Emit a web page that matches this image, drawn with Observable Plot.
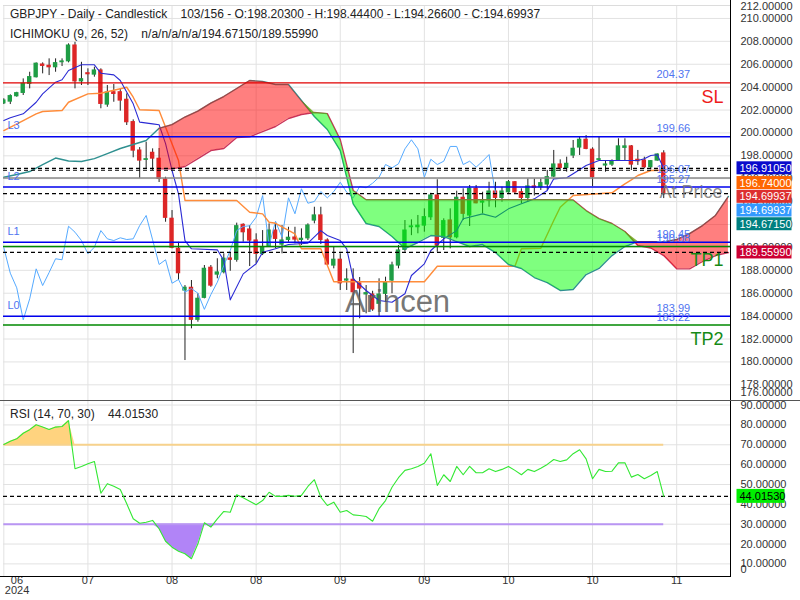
<!DOCTYPE html>
<html><head><meta charset="utf-8">
<script src="https://cdn.jsdelivr.net/npm/d3@7"></script>
<script src="https://cdn.jsdelivr.net/npm/@observablehq/plot@0.6"></script>
<style>
body{margin:0;background:#fff;font-family:"Liberation Sans",Arial,sans-serif;}
#wrap{position:relative;width:800px;height:600px;overflow:hidden;background:#fff;}
#wrap svg{position:absolute;left:0;}
.t{position:absolute;left:10px;font-size:12px;color:#222;white-space:pre;line-height:14px;}
.ln{position:absolute;background:#000;}
</style></head><body><div id="wrap"></div><script>
// ---------- DATA ----------
const opens  = [202.59,202.74,203.21,203.50,204.29,204.87,205.97,205.86,205.74,206.18,206.26,207.63,204.51,205.21,205.10,205.45,202.48,203.55,203.55,202.89,200.94,198.46,197.65,198.26,197.74,195.93,192.50,189.88,186.24,186.47,183.68,185.60,188.22,187.63,187.84,189.03,188.92,191.97,191.56,190.60,189.44,190.11,191.47,190.25,190.66,190.86,190.66,190.80,192.35,192.79,190.60,188.42,188.92,187.11,187.17,186.85,185.90,185.88,185.08,185.95,187.11,188.42,189.79,191.77,191.77,191.91,192.64,194.53,190.84,192.35,190.89,194.33,192.79,195.12,193.92,194.10,194.88,194.33,194.82,195.69,194.82,194.33,195.32,195.26,195.50,196.19,197.24,196.95,198.03,198.73,199.40,198.53,197.65,197.16,197.24,197.59,198.70,198.82,197.65,197.59,197.01,197.59,198.203];
const highs  = [202.98,203.33,203.55,204.72,205.30,206.12,206.12,206.47,206.47,206.47,207.78,207.92,206.17,205.60,205.74,205.60,204.14,204.23,203.85,203.41,201.14,198.72,199.19,198.61,198.64,196.13,193.22,190.45,186.67,187.11,185.95,188.42,188.42,189.01,189.44,189.49,192.12,192.06,191.91,191.19,191.47,192.06,192.06,191.91,191.76,191.76,191.62,192.06,193.51,193.51,190.75,190.02,189.44,188.13,188.13,187.37,186.67,186.17,187.26,187.40,188.71,190.17,192.35,192.41,192.79,193.37,194.73,195.91,192.50,193.37,194.91,195.12,195.41,195.41,194.82,195.69,195.69,195.26,195.84,195.75,195.12,195.98,195.98,195.98,196.72,198.47,197.65,197.88,199.34,199.63,199.77,198.70,199.63,197.59,197.65,199.49,199.49,198.90,198.47,197.88,197.59,198.17,198.444];
const lows   = [202.48,202.48,203.12,203.27,203.85,204.80,205.16,205.01,205.30,205.80,206.12,203.85,204.14,204.14,204.87,202.11,202.24,202.68,201.90,200.65,197.83,196.02,196.86,196.72,195.67,192.20,189.88,187.11,180.12,182.89,183.47,185.51,186.52,187.26,187.69,187.92,188.71,190.46,188.33,188.57,189.29,190.02,189.88,189.44,190.45,190.31,190.17,190.60,192.06,190.25,188.42,188.13,186.24,186.24,180.73,183.77,184.20,184.42,183.91,185.21,185.95,188.13,189.58,191.03,191.19,191.33,192.35,189.58,189.73,189.88,190.75,192.35,191.83,193.81,192.94,193.51,193.46,193.95,194.73,194.68,193.81,193.95,194.49,194.97,194.97,196.10,196.63,196.57,197.76,198.03,198.53,195.32,197.59,196.57,197.07,197.53,197.59,196.72,197.16,196.86,196.78,197.53,194.266];
const closes = [202.83,203.21,203.47,204.29,204.87,206.04,205.86,205.74,206.09,206.24,207.63,204.51,204.69,205.13,205.45,202.54,203.53,203.41,202.83,200.94,198.46,197.59,197.70,197.76,195.99,192.59,189.97,187.75,186.47,183.68,185.51,188.13,186.67,187.81,189.01,188.92,191.85,191.33,190.60,189.44,190.02,191.47,190.75,190.60,190.84,190.69,190.75,191.91,192.79,190.66,188.51,188.92,186.87,187.20,186.09,186.41,186.00,184.59,185.88,186.96,188.42,189.73,191.47,191.83,191.89,192.64,194.53,190.17,192.29,190.89,194.33,192.94,195.12,193.86,194.01,194.88,194.33,194.88,195.69,194.82,194.33,195.32,195.21,195.61,196.13,197.24,196.95,197.30,198.61,199.40,198.61,196.13,197.70,197.24,197.53,198.82,198.82,197.24,197.53,197.01,197.53,198.11,194.69937];

const tenkanIdx = [0,1,3,5,6,8,9,10,12,14,15,17,18,20,21,23,24,25,26,27,28,29,33,34,35,37,39,40,42,44,47,49,50,52,53,54,56,58,60,62,63,65,66,68,70,71,74,76,78,80,82,84,85,87,88,90,92,98,99,100,101,102];
const tenkanVal = [201.08,201.32,201.67,202.68,203.41,204.43,204.64,205.45,205.95,205.95,205.21,205.07,204.58,202.54,200.94,200.79,200.71,199.07,196.72,194.68,190.60,189.88,189.79,188.86,185.42,187.69,188.57,189.58,189.88,190.25,190.37,191.47,191.04,190.60,189.88,187.28,186.24,185.36,185.21,185.95,187.55,188.57,189.73,190.75,191.47,192.50,192.93,192.64,193.37,193.81,194.24,194.97,195.99,196.08,196.43,197.15,197.59,197.59,197.74,198.03,198.09,196.91];

const kijunIdx = [0,3,5,6,9,10,13,15,19,20,21,24,27,28,36,38,40,41,42,45,46,49,51,65,67,79,80,83,85,86,88,94,96,97,98,100,102];
const kijunVal = [200.21,201.08,201.67,201.87,201.96,202.68,203.41,203.47,203.99,203.12,202.02,201.96,197.59,194.10,194.10,193.07,192.93,192.20,192.11,191.19,189.88,189.88,187.00,187.00,188.36,188.36,189.88,189.93,192.35,193.51,194.53,194.77,195.55,195.90,196.28,196.72,196.74];

const spanAIdx = [0,2,4,6,8,10,12,14,16,18,20,22,24,26,28,30,32,34,36,38,40,42,44,46,48,50,52,54,56,58,60,62,64,66,68,70,72,74,76,78,80,82,84,86,88,90,92,94,96,98,100,102,104,106,108,110,112];
const spanA = [196.13,196.37,196.63,197.24,197.81,197.55,197.50,197.76,198.20,198.64,198.99,199.34,200.40,200.73,201.39,201.91,202.61,203.18,203.88,204.58,204.49,204.23,204.23,202.83,201.43,200.30,198.46,193.80,192.09,191.83,190.95,189.90,190.43,191.04,190.95,190.51,190.08,190.25,189.55,188.51,188.16,187.37,186.93,186.24,186.32,187.63,188.16,189.29,190.08,190.51,190.51,190.47,190.69,191.21,191.91,192.79,194.45];
const spanBIdx = [24,26,28,30,32,34,36,38,40,42,44,46,48,50,52,54,56,58,60,62,64,66,68,70,72,74,76,78,80,82,84,86,88,90,92,94,96,98,100,102,104,106,108,110,112];
const spanB = [196.86,196.86,197.07,197.76,198.46,198.64,199.60,199.66,200.12,200.56,201.26,201.61,201.78,201.69,199.42,194.97,194.16,194.16,194.16,194.16,194.16,194.16,194.16,194.16,194.16,194.16,194.16,194.16,194.16,194.16,194.16,194.16,194.14,193.22,192.52,192.09,191.39,190.17,189.95,189.29,188.13,188.13,188.77,189.29,189.55];
const chikouShift = 26;

const rsi = [70.15,71.8,73.0,75.8,77.6,80.1,78.9,77.7,78.9,79.2,82.2,57.9,59.1,60.4,61.6,45.6,50.4,49.1,47.5,40.3,32.7,30.5,31.0,31.9,27.7,21.4,18.4,16.4,15.1,12.6,20.1,30.7,28.5,32.7,36.4,36.0,44.8,43.3,41.6,39.8,41.9,46.1,44.0,44.0,44.5,44.1,44.5,49.0,52.4,43.6,39.4,41.1,36.0,36.9,34.7,34.4,33.9,31.5,37.8,41.9,48.6,53.4,57.1,57.9,59.1,60.7,65.5,49.5,54.9,51.5,59.1,54.9,59.1,55.9,55.9,57.9,56.5,57.6,59.1,57.1,54.9,57.6,56.5,58.2,60.1,62.6,61.6,62.4,65.5,67.5,62.9,52.9,57.6,56.5,56.7,60.9,60.9,53.7,55.0,52.9,54.5,56.5,44.0153];
const rsiUpper = 70, rsiLower = 30;

const dateIdx = [0,13,26,39,52,65,78,91,104];
const dateLabels = ["06","07","08","08","09","09","10","10","11"];
const yearLabel = "2024";
const priceTicks = [178,180,182,184,186,188,190,192,194,196,198,200,202,204,206,208,210];
const rsiTicks = [10,20,30,40,50,60,70,80,90];

const blueLevels = [199.66,195.27,190.45,183.99];
const blueNames = ["L3","L2","L1","L0"];
const slLevel = 204.37;
const tpLevels = [190.08,183.22];
const tpNames = ["TP1","TP2"];
const grayLevel = 196.07;
const dashLevels = [196.9105,196.74,194.69937,189.5599];

const badgeVals = [196.9105,196.74,194.69937,194.69937,194.6715,189.5599];
const badgeCols = ["#0a0acc","#ff6600","#dd2f2f","#3399ff","#008080","#cc0033"];
const badgeShift = [0,12.8,3.2,16.9,30.3,0];

// ---------- BUILD ----------
const font = '"Liberation Sans", Arial, sans-serif';
const xDom = [-0.05, 112.32];
const up = "#1f9d45", dn = "#dd2626";
const candles = opens.map((o,i)=>({i, o, h:highs[i], l:lows[i], c:closes[i]}));
const tenkan = tenkanIdx.map((i,k)=>({i, v:tenkanVal[k]}));
const kijun = kijunIdx.map((i,k)=>({i, v:kijunVal[k]}));
const chikou = closes.slice(chikouShift).map((v,k)=>({i:k, v}));
const sA = spanAIdx.map((i,k)=>({i, v:spanA[k]}));
const sB = spanBIdx.map((i,k)=>({i, v:spanB[k]}));
const cloud = spanBIdx.map((i,k)=>({i, a:spanA[spanAIdx.indexOf(i)], b:spanB[k]}));
const ticksX = dateIdx.map((i,k)=>({i, label:dateLabels[k]}));
const labelLevels = [
  {v:slLevel, t:slLevel.toFixed(2)},
  ...blueLevels.map(v=>({v, t:v.toFixed(2)})),
  {v:grayLevel, t:grayLevel.toFixed(2)},
  ...tpLevels.map(v=>({v, t:v.toFixed(2)}))
];
const lvlCol = "#4f74f0";

const main = Plot.plot({
  width: 800, height: 400,
  marginLeft: 3, marginRight: 70, marginTop: 5, marginBottom: 0,
  x: {domain: xDom, axis: null},
  y: {domain: [176.63, 211.13], axis: null},
  style: {fontFamily: font, background: "transparent", color: "#333", overflow: "visible"},
  marks: [
    Plot.gridY(priceTicks, {stroke: "#e2e2e2", strokeOpacity: 1}),
    Plot.gridX(dateIdx, {stroke: "#e2e2e2", strokeOpacity: 1}),
    Plot.ruleY([211.13], {stroke: "#dcdcdc"}),
    Plot.ruleX(candles, {x: "i", y1: "l", y2: "h", stroke: "#222", strokeWidth: 1, clip: true}),
    Plot.rect(candles, {x1: d=>d.i-0.34, x2: d=>d.i+0.34, y1: "o", y2: "c", fill: d=>d.c>=d.o?up:dn, insetTop: -0.6, insetBottom: -0.6, clip: true}),
    Plot.line(chikou, {x: "i", y: "v", stroke: "#55aaff", strokeWidth: 1, clip: true}),
    Plot.line(kijun, {x: "i", y: "v", stroke: "#ff8c3a", strokeWidth: 1.4, clip: true}),
    Plot.line(tenkan, {x: "i", y: "v", stroke: "#2a2ad4", strokeWidth: 1.1, clip: true}),
    Plot.line(sA, {x: "i", y: "v", stroke: "#2f9090", strokeWidth: 1.4, clip: true}),
    Plot.line(sB, {x: "i", y: "v", stroke: "#c8345a", strokeWidth: 1.4, clip: true}),
    Plot.areaY(cloud, {x: "i", y1: "b", y2: d=>Math.max(d.a,d.b), fill: "#ff0000", fillOpacity: 0.5, clip: true}),
    Plot.areaY(cloud, {x: "i", y1: "a", y2: d=>Math.max(d.a,d.b), fill: "#00ff00", fillOpacity: 0.5, clip: true}),
    Plot.ruleY([grayLevel], {stroke: "#888", strokeWidth: 1.5}),
    Plot.ruleY(dashLevels, {stroke: "#000", strokeWidth: 1.2, strokeDasharray: "4,3"}),
    Plot.ruleY(blueLevels, {stroke: "#0000ee", strokeWidth: 1.5}),
    Plot.ruleY([slLevel], {stroke: "#e00000", strokeWidth: 1.3}),
    Plot.ruleY(tpLevels, {stroke: "#008800", strokeWidth: 1.5}),
    Plot.text(labelLevels, {y: "v", text: "t", frameAnchor: "right", textAnchor: "start", dx: -74, dy: -8, fill: lvlCol, fontSize: 11}),
    Plot.text(blueLevels.map((v,k)=>({v, t:blueNames[k]})), {y: "v", text: "t", frameAnchor: "left", textAnchor: "start", dx: 4, dy: -11, fill: lvlCol, fontSize: 11}),
    Plot.text([{v:slLevel, t:"SL"}], {y: "v", text: "t", frameAnchor: "right", textAnchor: "end", dx: -7, dy: 14.5, fill: "#ee1c1c", fontSize: 18}),
    Plot.text(tpLevels.map((v,k)=>({v, t:tpNames[k]})), {y: "v", text: "t", frameAnchor: "right", textAnchor: "end", dx: -7, dy: 14, fill: "#168a16", fontSize: 18}),
    Plot.text([{v:closes[closes.length-1], t:"At Price"}], {y: "v", text: "t", frameAnchor: "right", textAnchor: "end", dx: -8, dy: -1, fill: "#777", fillOpacity: 0.85, fontSize: 18}),
    Plot.axisY(priceTicks, {anchor: "right", tickSize: 0, tickPadding: 10, tickFormat: d=>d.toFixed(5), fontSize: 11, label: null}),
    Plot.text(["212.00000"], {frameAnchor: "top-right", textAnchor: "start", dx: 10, dy: -3, fontSize: 11, fill: "#333"}),
    Plot.text(["176.00000"], {frameAnchor: "bottom-right", textAnchor: "start", dx: 10, dy: -5, fontSize: 11, fill: "#333"})
  ]
});

const rsiData = rsi.map((v,i)=>({i, v}));
const rsiLast = rsi[rsi.length-1];
const rsiPlot = Plot.plot({
  width: 800, height: 200,
  marginLeft: 3, marginRight: 70, marginTop: 0, marginBottom: 24,
  x: {domain: xDom, axis: null},
  y: {domain: [3.65, 92.3], axis: null},
  style: {fontFamily: font, background: "transparent", color: "#333", overflow: "visible"},
  marks: [
    Plot.gridY(rsiTicks, {stroke: "#e2e2e2", strokeOpacity: 1}),
    Plot.gridX(dateIdx, {stroke: "#e2e2e2", strokeOpacity: 1}),
    Plot.areaY(rsiData, {x: "i", y1: d=>rsiUpper, y2: d=>Math.max(d.v, rsiUpper), fill: "#ffd37f"}),
    Plot.areaY(rsiData, {x: "i", y1: d=>Math.min(d.v, rsiLower), y2: d=>rsiLower, fill: "#b184f7"}),
    Plot.ruleY([{y: rsiUpper, a: 0, b: rsi.length-1}], {y: "y", x1: "a", x2: "b", stroke: "#f7d28c", strokeWidth: 2}),
    Plot.ruleY([{y: rsiLower, a: 0, b: rsi.length-1}], {y: "y", x1: "a", x2: "b", stroke: "#b995f3", strokeWidth: 2}),
    Plot.ruleY([rsiLast], {stroke: "#000", strokeWidth: 1.2, strokeDasharray: "4,3"}),
    Plot.line(rsiData, {x: "i", y: "v", stroke: "#33e833", strokeWidth: 1.1}),
    Plot.axisY(rsiTicks, {anchor: "right", tickSize: 0, tickPadding: 10, tickFormat: d=>d.toFixed(5), fontSize: 11, label: null}),
    Plot.text(["0"], {frameAnchor: "bottom-right", textAnchor: "start", dx: 10, dy: -4, fontSize: 11, fill: "#333"}),
    Plot.text(ticksX.slice(1), {x: "i", text: "label", frameAnchor: "bottom", dy: 7, fontSize: 11, fill: "#333"}),
    Plot.text(ticksX.slice(0,1), {x: "i", text: "label", frameAnchor: "bottom", textAnchor: "start", dx: 7, dy: 7, fontSize: 11, fill: "#333"}),
    Plot.text([{i: dateIdx[0], t: yearLabel}], {x: "i", text: "t", frameAnchor: "bottom", textAnchor: "start", dx: 1, dy: 17, fontSize: 11, fill: "#333"})
  ]
});

const wrap = document.getElementById("wrap");
main.style.top = "0px";
rsiPlot.style.top = "400px";
wrap.appendChild(main);
wrap.appendChild(rsiPlot);

// watermark
const ms = d3.select(main);
ms.append("text").attr("x", 345).attr("y", 311.5).attr("font-size", 31).attr("font-family", font)
  .attr("text-anchor", "start").attr("fill", "#5e5e5e").attr("fill-opacity", 0.85).text("Arincen");

// value badges on the price axis
const sy = main.scale("y");
badgeVals.forEach((v,k)=>{
  const y = sy.apply(v) + badgeShift[k];
  ms.append("rect").attr("x", 736.5).attr("y", y-6.5).attr("width", 55).attr("height", 13).attr("fill", badgeCols[k]);
  ms.append("text").attr("x", 739.5).attr("y", y).attr("dy", "0.36em").attr("font-size", 11).attr("font-family", font)
    .attr("text-anchor", "start").attr("fill", "#fff").text(v.toFixed(5));
});
const rs = d3.select(rsiPlot);
const ry = rsiPlot.scale("y").apply(rsiLast);
rs.append("rect").attr("x", 736.5).attr("y", ry-7).attr("width", 48).attr("height", 14).attr("fill", "#00ee00");
rs.append("text").attr("x", 739.5).attr("y", ry).attr("dy", "0.36em").attr("font-size", 11).attr("font-family", font)
  .attr("text-anchor", "start").attr("fill", "#000").text(rsiLast.toFixed(5));

// frame lines
function line(l,t,w,h,c){const d=document.createElement("div");d.className="ln";d.style.left=l+"px";d.style.top=t+"px";d.style.width=w+"px";d.style.height=h+"px";if(c)d.style.background=c;wrap.appendChild(d);}
line(730,0,1,577);
line(0,576,731,1);
line(0,400,800,1,"#555");

// titles
function title(txt, top){const d=document.createElement("div");d.className="t";d.style.top=top+"px";d.textContent=txt;wrap.appendChild(d);}
title("GBPJPY - Daily - Candlestick    103/156 - O:198.20300 - H:198.44400 - L:194.26600 - C:194.69937", 7);
title("ICHIMOKU (9, 26, 52)    n/a/n/a/n/a/194.67150/189.55990", 27);
title("RSI (14, 70, 30)    44.01530", 407);
</script></body></html>
